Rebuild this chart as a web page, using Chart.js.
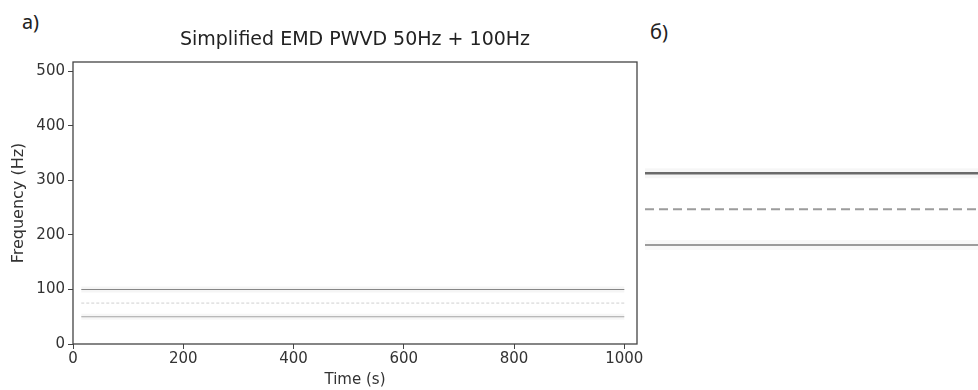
<!DOCTYPE html>
<html>
<head>
<meta charset="utf-8">
<script src="https://cdn.jsdelivr.net/npm/chart.js@4/dist/chart.umd.min.js"></script>
<style>
  body { margin:0; background:#fff; width:978px; height:390px; overflow:hidden; position:relative; }
  .lbl { position:absolute; font-family:"Noto Sans", sans-serif; font-size:20px; color:#222; }
  #c1 { position:absolute; left:0; top:0; }
  #c2 { position:absolute; left:645px; top:140px; }
</style>
</head>
<body>
<div class="lbl" style="left:22px;top:8px;">а)</div>
<div class="lbl" style="left:650px;top:18px;">б)</div>
<canvas id="c1" width="645" height="390"></canvas>
<canvas id="c2" width="333" height="140"></canvas>
<script>
// dados
var timeSpan = [15, 1000]      // s, onde as linhas aparecem
var freqs = [100, 75, 50]      // Hz: 100Hz, termo cruzado, 50Hz
var xTicks = [0, 200, 400, 600, 800, 1000]
var yTicks = [0, 100, 200, 300, 400, 500]
var zoomSpan = [0, 1]          // painel b) mostra so as linhas

function linha(f, span){
  return [{x: span[0], y: f}, {x: span[1], y: f}]
}

// caixa em volta da area + titulo centrado sobre a area
var caixa = {
  id: 'caixa',
  afterLayout: function(chart){
    if (chart.titleBlock){
      chart.titleBlock.left = chart.chartArea.left
      chart.titleBlock.right = chart.chartArea.right
      chart.titleBlock.width = chart.chartArea.right - chart.chartArea.left
    }
  },
  afterDraw: function(chart){
    var a = chart.chartArea, ctx = chart.ctx
    ctx.save()
    ctx.strokeStyle = '#444'
    ctx.lineWidth = 1.3
    ctx.strokeRect(a.left, a.top, a.right - a.left, a.bottom - a.top)
    ctx.restore()
  }
}

var tickFont = {family: 'DejaVu Sans', size: 15}

new Chart(document.getElementById('c1'), {
  type: 'line',
  data: {
    datasets: [
      {data: linha(freqs[0], timeSpan), borderColor: 'rgba(0,0,0,0.04)', borderWidth: 6},
      {data: linha(freqs[2], timeSpan), borderColor: 'rgba(0,0,0,0.035)', borderWidth: 6},
      {data: linha(freqs[0], timeSpan), borderColor: '#8c8c8c', borderWidth: 1.1},
      {data: linha(freqs[1], timeSpan), borderColor: '#cfcfcf', borderWidth: 1, borderDash: [3, 2]},
      {data: linha(freqs[2], timeSpan), borderColor: '#ababab', borderWidth: 1.1}
    ]
  },
  options: {
    responsive: false,
    animation: false,
    layout: {padding: {left: 0, right: 8, top: 0, bottom: 0}},
    elements: {point: {radius: 0}},
    plugins: {
      legend: {display: false},
      tooltip: {enabled: false},
      title: {
        display: true,
        text: 'Simplified EMD PWVD 50Hz + 100Hz',
        color: '#222',
        font: {family: 'DejaVu Sans', size: 19, weight: 'normal', lineHeight: 1.2},
        padding: {top: 29, bottom: 10.2}
      }
    },
    scales: {
      x: {
        type: 'linear', min: 0, max: 1023,
        afterBuildTicks: function(s){ s.ticks = xTicks.map(function(v){ return {value: v} }) },
        afterFit: function(s){ s.height = 46 },
        grid: {drawOnChartArea: false, tickLength: 5, color: '#444', tickWidth: 1},
        border: {display: false},
        ticks: {color: '#333', font: tickFont, padding: 1, maxRotation: 0,
                callback: function(v){ return String(v) }},
        title: {display: true, text: 'Time (s)', color: '#333', font: {family: 'DejaVu Sans', size: 15}, padding: {top: 0, bottom: 1}}
      },
      y: {
        type: 'linear', min: 0, max: 517,
        afterBuildTicks: function(s){ s.ticks = yTicks.map(function(v){ return {value: v} }) },
        afterFit: function(s){ s.width = 73 },
        grid: {drawOnChartArea: false, tickLength: 5, color: '#444', tickWidth: 1},
        border: {display: false},
        ticks: {color: '#333', font: tickFont, padding: 3,
                callback: function(v){ return String(v) }},
        title: {display: true, text: 'Frequency (Hz)', color: '#333', font: {family: 'DejaVu Sans', size: 16}, padding: {top: 9, bottom: 4}}
      }
    }
  },
  plugins: [caixa]
});

new Chart(document.getElementById('c2'), {
  type: 'line',
  data: {
    datasets: [
      {data: linha(freqs[0], zoomSpan), borderColor: 'rgba(0,0,0,0.035)', borderWidth: 10},
      {data: linha(freqs[2], zoomSpan), borderColor: 'rgba(0,0,0,0.025)', borderWidth: 10},
      {data: linha(freqs[0], zoomSpan), borderColor: '#6e6e6e', borderWidth: 2.5},
      {data: linha(freqs[1], zoomSpan), borderColor: '#9c9c9c', borderWidth: 2, borderDash: [9, 5]},
      {data: linha(freqs[2], zoomSpan), borderColor: '#a0a0a0', borderWidth: 2}
    ]
  },
  options: {
    responsive: false,
    animation: false,
    layout: {padding: 0},
    elements: {point: {radius: 0}},
    plugins: {legend: {display: false}, tooltip: {enabled: false}},
    scales: {
      x: {type: 'linear', min: 0, max: 1, display: false},
      y: {type: 'linear', min: 25.7, max: 123.1, display: false}
    }
  }
});
</script>
</body>
</html>
